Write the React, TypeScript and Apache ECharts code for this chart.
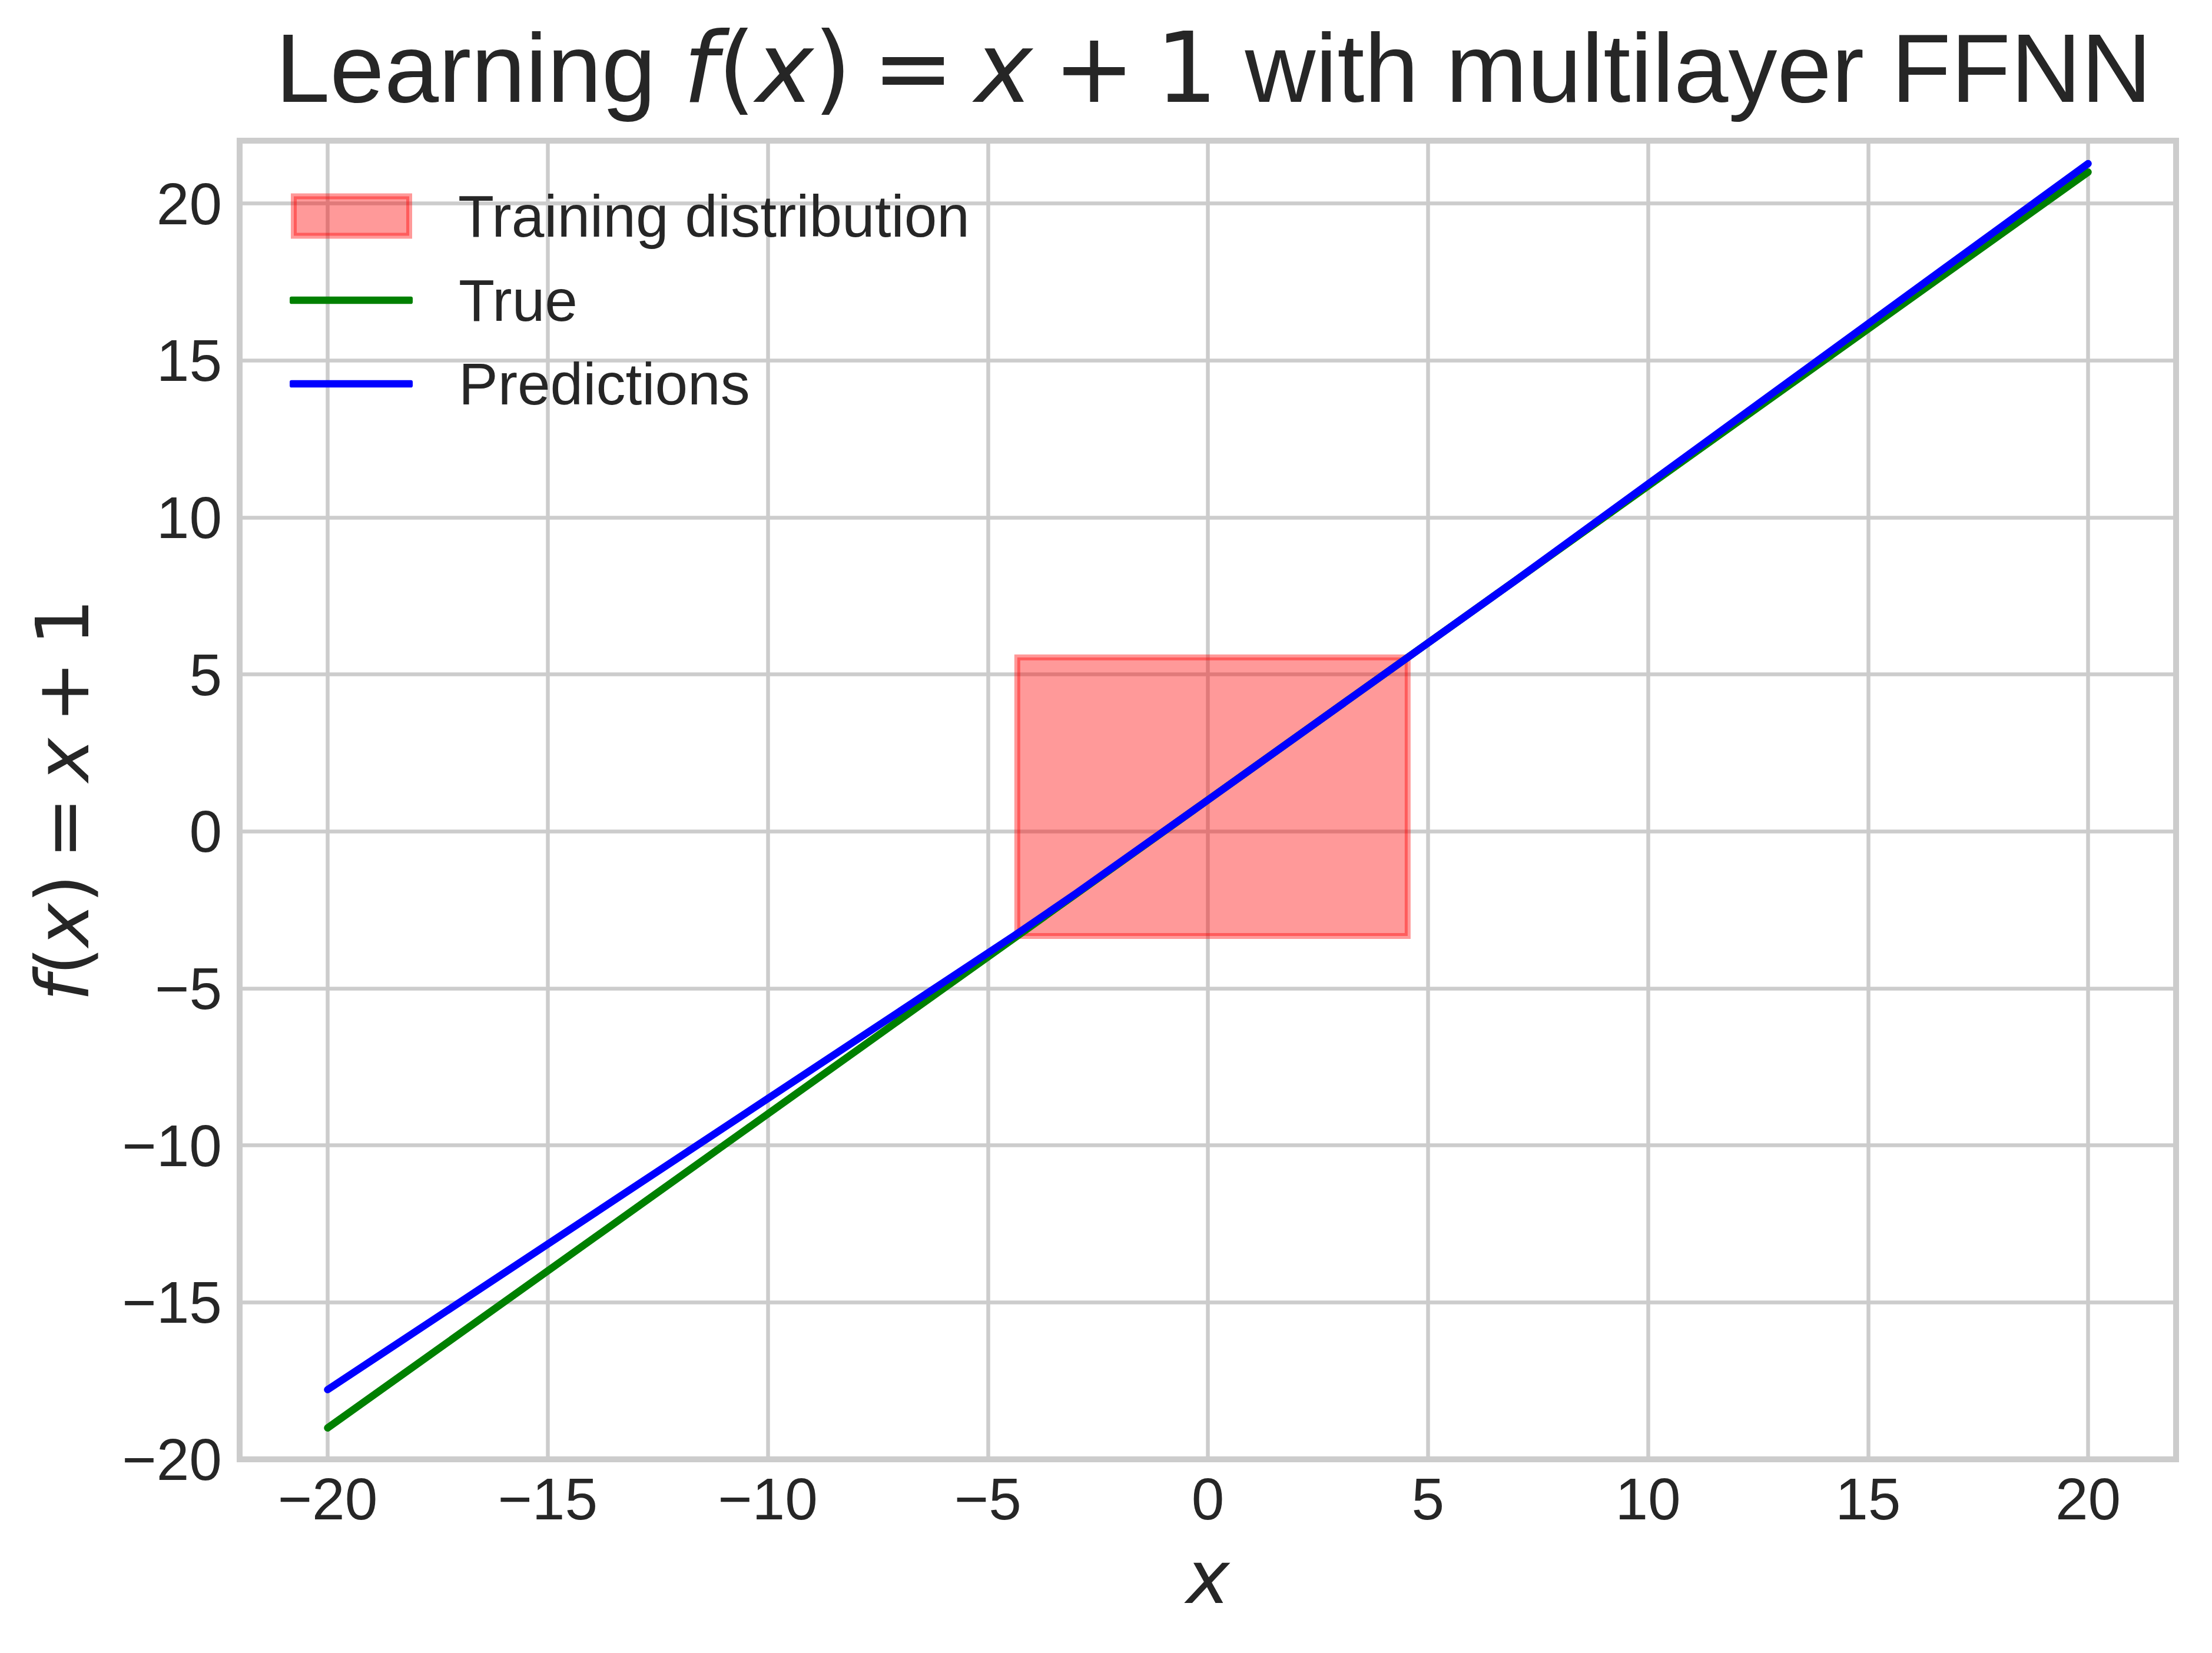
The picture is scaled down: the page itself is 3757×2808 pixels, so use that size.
import React, { useEffect, useRef } from "react";
import * as echarts from "echarts";

// ---- data ----
const trueX = [-20, 20];
const trueY = [-19, 21];
const predX = [-20, -4.4, -3.0, 0, 4.5, 7.0, 20];
const predY = [-17.78, -3.32, -1.98, 1.0, 5.5, 8.0, 21.27];
const trainX = [-4.33, 4.54];
const trainY = [-3.33, 5.54];
const seriesNames = ["Training distribution", "True", "Predictions"];

const SANS = "'Liberation Sans', Arial, sans-serif";
const MATH = "'DejaVu Sans', sans-serif";
const INK = "#262626";
const GRID = "#cccccc";

const minus = (v: number) => (v < 0 ? "\u2212" + Math.abs(v) : String(v));
const MATH_EXPR = "{mi|f}{m|(}{mi|x}{m|)}{sp| }{m|=}{sp| }{mi|x}{sp| }{m|+}{sp| }{m|1}";

export default function App() {
  const ref = useRef<HTMLDivElement>(null);
  useEffect(() => {
    if (!ref.current) return;
    const chart = echarts.init(ref.current, null, { renderer: "svg" });
    const mathRich = (size: number) => ({
      mi: { fontFamily: MATH, fontStyle: "italic", fontSize: size, color: INK, lineHeight: size },
      m: { fontFamily: MATH, fontSize: size, color: INK, lineHeight: size },
      sp: { fontFamily: MATH, fontSize: Math.round(size * 0.66), color: INK, lineHeight: size },
      t: { fontFamily: SANS, fontSize: size, color: INK, lineHeight: size },
    });
    const option: any = {
      animation: false,
      backgroundColor: "#ffffff",
      title: {
        text: "{t|Learning }" + MATH_EXPR + "{t| with multilayer FFNN}",
        left: 468,
        top: 32,
        padding: 0,
        textStyle: {
          fontFamily: SANS,
          fontSize: 166,
          fontWeight: "normal",
          color: INK,
          lineHeight: 200,
          rich: mathRich(166),
        },
      },
      grid: {
        left: 407,
        right: 61,
        top: 239,
        bottom: 329,
        show: true,
        borderColor: GRID,
        borderWidth: 10,
        backgroundColor: "transparent",
        containLabel: false,
        outerBoundsMode: "none",
      },
      legend: [
        {
          data: [
            {
              name: seriesNames[0],
              icon: "rect",
              itemStyle: {
                color: "rgba(255,0,0,0.4)",
                borderColor: "rgba(255,0,0,0.4)",
                borderWidth: 10,
              },
            },
          ],
          orient: "vertical",
          left: 494,
          top: 317,
          padding: 0,
          itemWidth: 196,
          itemHeight: 67,
          selectedMode: false,
          textStyle: {
            fontFamily: SANS,
            fontSize: 100,
            lineHeight: 100,
            color: INK,
            padding: [0, 0, 0, 78],
          },
        },
        {
          data: [
            { name: seriesNames[1], icon: "roundRect", itemStyle: { color: "#008000", borderWidth: 0 } },
            { name: seriesNames[2], icon: "roundRect", itemStyle: { color: "#0000ff", borderWidth: 0 } },
          ],
          orient: "vertical",
          left: 492,
          top: 460,
          padding: 0,
          itemGap: 42,
          itemWidth: 209,
          itemHeight: 12.5,
          selectedMode: false,
          textStyle: {
            fontFamily: SANS,
            fontSize: 100,
            lineHeight: 100,
            color: INK,
            padding: [0, 0, 0, 73],
          },
        },
      ],
      xAxis: {
        type: "value",
        min: -22,
        max: 22,
        splitNumber: 9,
        minInterval: 5,
        maxInterval: 5,
        name: "x",
        nameLocation: "middle",
        nameGap: 138,
        nameTextStyle: { fontFamily: MATH, fontStyle: "italic", fontSize: 125, color: INK, lineHeight: 125 },
        axisLine: { show: false },
        axisTick: { show: false },
        axisLabel: {
          margin: 17,
          fontFamily: SANS,
          fontSize: 100,
          lineHeight: 100,
          color: INK,
          showMinLabel: false,
          showMaxLabel: false,
          formatter: (v: number) => (Math.abs(v % 5) < 1e-9 ? minus(v) : ""),
        },
        splitLine: { show: true, lineStyle: { color: GRID, width: 6.5 } },
      },
      yAxis: {
        type: "value",
        min: -20,
        max: 22,
        interval: 5,
        name: MATH_EXPR,
        nameLocation: "middle",
        nameRotate: 90,
        nameGap: 238,
        nameTextStyle: { fontFamily: MATH, fontSize: 125, color: INK, lineHeight: 125, rich: mathRich(125) },
        axisLine: { show: false },
        axisTick: { show: false },
        axisLabel: {
          margin: 30,
          fontFamily: SANS,
          fontSize: 100,
          lineHeight: 100,
          color: INK,
          showMaxLabel: false,
          formatter: (v: number) => (Math.abs(v % 5) < 1e-9 ? minus(v) : ""),
        },
        splitLine: { show: true, lineStyle: { color: GRID, width: 6.5 } },
      },
      series: [
        {
          name: seriesNames[0],
          type: "custom",
          z: 1,
          itemStyle: { color: "rgba(255,0,0,0.4)" },
          encode: { x: [0, 1], y: [2, 3] },
          data: [[trainX[0], trainX[1], trainY[0], trainY[1]]],
          renderItem: (params: any, api: any) => {
            const p0 = api.coord([api.value(0), api.value(3)]);
            const p1 = api.coord([api.value(1), api.value(2)]);
            return {
              type: "rect",
              shape: { x: p0[0], y: p0[1], width: p1[0] - p0[0], height: p1[1] - p0[1] },
              style: { fill: "rgba(255,0,0,0.4)", stroke: "rgba(255,0,0,0.4)", lineWidth: 10 },
            };
          },
        },
        {
          name: seriesNames[1],
          type: "line",
          z: 3,
          symbol: "none",
          showSymbol: false,
          itemStyle: { color: "#008000" },
          lineStyle: { color: "#008000", width: 12.5, cap: "round", join: "round" },
          data: trueX.map((x, i) => [x, trueY[i]]),
        },
        {
          name: seriesNames[2],
          type: "line",
          z: 4,
          symbol: "none",
          showSymbol: false,
          itemStyle: { color: "#0000ff" },
          lineStyle: { color: "#0000ff", width: 12.5, cap: "round", join: "round" },
          data: predX.map((x, i) => [x, predY[i]]),
        },
      ],
    };
    chart.setOption(option);
    return () => chart.dispose();
  }, []);
  return (
    <div
      ref={ref}
      style={{ position: "absolute", left: 0, top: 0, width: 3757, height: 2808, background: "#fff" }}
    />
  );
}
